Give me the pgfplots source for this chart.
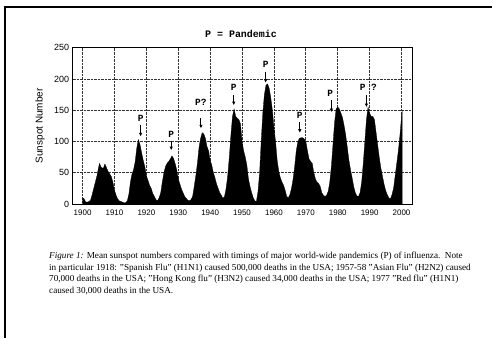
\documentclass[border=0pt]{standalone}
\usepackage{fontspec}
\setmainfont{Liberation Serif}
\newfontfamily\arial{Liberation Sans}
\setmonofont{Liberation Mono}
\usepackage{pgfplots}
\pgfplotsset{compat=1.18}
\usetikzlibrary{arrows.meta}
\begin{document}
\begin{tikzpicture}[x=1bp,y=1bp]
\useasboundingbox (0,0) rectangle (492,338);
\draw[line width=1.1bp] (5,0) -- (5,331) -- (492,331);
\node[font=\ttfamily\bfseries\fontsize{10}{12}\selectfont] at (241,304) {P = Pandemic};
\begin{axis}[
  at={(72.7bp,134bp)}, anchor=south west,
  scale only axis, width=340bp, height=156.3bp,
  xmin=1896.9, xmax=2003.5, ymin=0, ymax=250,
  xtick={1900,1910,...,2000}, ytick={0,50,...,250},
  /pgf/number format/assume math mode=true,
  xticklabel={\pgfmathprintnumber[1000 sep={}]{\tick}},
  x tick label style={font=\arial\fontsize{8}{9}\selectfont, yshift=-2bp},
  y tick label style={font=\arial\fontsize{9}{10}\selectfont},
  major tick length=0pt,
  grid=major,
  major grid style={densely dotted, black!80, line width=0.8bp},
  axis line style={black, line width=0.7bp},
  ylabel={Sunspot Number},
  ylabel style={font=\arial\fontsize{10}{12}\selectfont, at={(axis description cs:-0.096,0.5)}, anchor=center},
  clip=true,
]
\addplot[fill=black, draw=black, line width=0.3bp] coordinates {
(1900.0,0) (1900.0,10) (1900.5,8) (1901.0,3) (1901.5,3) (1902.0,4) (1902.5,6) (1903.0,15) (1903.5,25)
(1904.0,35) (1904.5,45) (1905.0,58) (1905.3,65) (1905.7,60) (1906.0,58) (1906.5,57) (1907.0,64) (1907.5,58)
(1908.0,52) (1908.5,48) (1909.0,44) (1909.5,35) (1910.0,22) (1910.5,14) (1911.0,8) (1911.5,5)
(1912.0,4) (1912.5,3) (1913.0,2) (1913.5,2)
(1914.0,5) (1914.5,15) (1915.0,35) (1915.5,48) (1916.0,55) (1916.5,68) (1917.0,90) (1917.5,103)
(1918.0,95) (1918.5,82) (1919.0,70) (1919.5,60) (1920.0,45) (1920.5,38) (1921.0,30) (1921.5,25)
(1922.0,17) (1922.5,12) (1923.0,7) (1923.5,5)
(1924.0,10) (1924.5,18) (1925.0,35) (1925.5,50) (1926.0,60) (1926.5,65) (1927.0,68) (1927.5,72)
(1928.0,77) (1928.5,73) (1929.0,65) (1929.5,55) (1930.0,40) (1930.5,32) (1931.0,24) (1931.5,18)
(1932.0,12) (1932.5,9) (1933.0,6) (1933.5,5)
(1934.0,7) (1934.5,12) (1935.0,28) (1935.5,45) (1936.0,65) (1936.5,90) (1937.0,105) (1937.5,114)
(1938.0,112) (1938.5,105) (1939.0,92) (1939.5,85) (1940.0,70) (1940.5,62) (1941.0,50) (1941.5,42)
(1942.0,32) (1942.5,25) (1943.0,18) (1943.5,14) (1944.0,9)
(1944.5,12) (1945.0,25) (1945.5,45) (1946.0,75) (1946.5,110) (1947.0,140) (1947.5,152) (1948.0,140)
(1948.5,137) (1949.0,135) (1949.5,128) (1950.0,100) (1950.5,85) (1951.0,75) (1951.5,62) (1952.0,40)
(1952.5,28) (1953.0,18) (1953.5,10) (1954.0,5) (1954.5,4)
(1955.0,20) (1955.5,50) (1956.0,100) (1956.5,145) (1957.0,175) (1957.5,190) (1958.0,192) (1958.5,185)
(1959.0,170) (1959.5,150) (1960.0,122) (1960.5,100) (1961.0,70) (1961.5,52) (1962.0,42) (1962.5,35)
(1963.0,30) (1963.5,22) (1964.0,12) (1964.5,10)
(1965.0,15) (1965.5,25) (1966.0,40) (1966.5,60) (1967.0,85) (1967.5,100) (1968.0,105) (1968.5,106)
(1969.0,106) (1969.5,104) (1970.0,100) (1970.5,85) (1971.0,72) (1971.5,68) (1972.0,65) (1972.5,50)
(1973.0,40) (1973.5,35) (1974.0,33) (1974.5,28) (1975.0,18) (1975.5,14) (1976.0,12)
(1976.5,14) (1977.0,20) (1977.5,35) (1978.0,60) (1978.5,95) (1979.0,130) (1979.5,152) (1980.0,155)
(1980.5,152) (1981.0,145) (1981.5,138) (1982.0,125) (1982.5,110) (1983.0,90) (1983.5,70) (1984.0,55)
(1984.5,42) (1985.0,28) (1985.5,18) (1986.0,13) (1986.5,12)
(1987.0,18) (1987.5,35) (1988.0,65) (1988.5,100) (1989.0,135) (1989.5,155) (1990.0,145) (1990.5,140)
(1991.0,140) (1991.5,135) (1992.0,115) (1992.5,95) (1993.0,75) (1993.5,58) (1994.0,45) (1994.5,32)
(1995.0,22) (1995.5,15) (1996.0,10) (1996.5,8)
(1997.0,15) (1997.5,25) (1998.0,45) (1998.5,65) (1999.0,85) (1999.5,110) (2000.0,140) (2000.2,150) (2000.2,0)
} \closedcycle;
\tikzset{parr/.style={-{Latex[length=3.5bp,width=3.5bp]}, line width=0.9bp}}
\tikzset{plab/.style={font=\ttfamily\bfseries\fontsize{9.5}{10}\selectfont, inner sep=0pt}}
\node[plab] at (axis cs:1918.2,137) {P};
\draw[parr] (axis cs:1918.2,127) -- (axis cs:1918.2,108);
\node[plab] at (axis cs:1927.8,112) {P};
\draw[parr] (axis cs:1927.8,101) -- (axis cs:1927.8,86);
\node[plab] at (axis cs:1937.1,163) {P?};
\draw[parr] (axis cs:1937.1,137) -- (axis cs:1937.1,121);
\node[plab] at (axis cs:1947.4,187) {P};
\draw[parr] (axis cs:1947.4,175) -- (axis cs:1947.4,158);
\node[plab] at (axis cs:1957.4,223) {P};
\draw[parr] (axis cs:1957.4,211) -- (axis cs:1957.4,194);
\node[plab] at (axis cs:1968.1,142) {P};
\draw[parr] (axis cs:1968.1,131) -- (axis cs:1968.1,114);
\node[plab] at (axis cs:1977.6,177) {P};
\draw[parr] (axis cs:1978.0,166) -- (axis cs:1978.0,147);
\node[plab] at (axis cs:1989.6,186) {P ?};
\draw[parr] (axis cs:1989.0,175) -- (axis cs:1989.0,155);
\end{axis}
\node[anchor=north west, align=left, inner sep=0pt, font=\fontsize{9.2}{11.7}\selectfont] at (49,86) {%
\textit{Figure 1:} Mean sunspot numbers compared with timings of major world-wide pandemics (P) of influenza.\ \ Note\\
in particular 1918: "Spanish Flu" (H1N1) caused 500,000 deaths in the USA; 1957-58 "Asian Flu" (H2N2) caused\\
70,000 deaths in the USA; "Hong Kong flu" (H3N2) caused 34,000 deaths in the USA; 1977 "Red flu" (H1N1)\\
caused 30,000 deaths in the USA.};
\end{tikzpicture}
\end{document}
